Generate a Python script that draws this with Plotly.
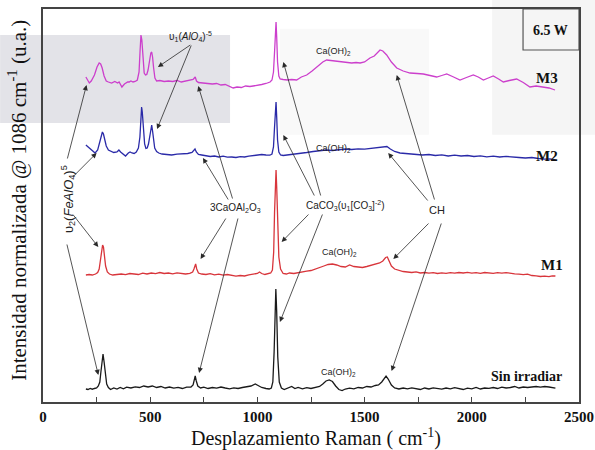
import plotly.graph_objects as go

# ---------------- data ----------------
x_sin = [200,210,220,230,240,250,258,265,270,275,280,285,290,297,305,315,330,345,360,375,390,410,430,450,470,490,510,530,550,570,590,610,630,650,670,690,700,705,710,715,722,735,750,770,790,810,830,850,870,890,910,930,950,970,990,1005,1020,1040,1055,1065,1072,1078,1082,1086,1090,1095,1102,1112,1125,1140,1160,1175,1190,1210,1230,1250,1270,1290,1305,1320,1335,1350,1365,1380,1395,1410,1430,1450,1470,1490,1510,1530,1550,1565,1580,1590,1600,1610,1625,1640,1660,1680,1700,1720,1740,1760,1780,1800,1820,1840,1860,1880,1900,1920,1940,1960,1980,2000,2020,2040,2060,2080,2100,2120,2140,2160,2180,2200,2220,2240,2260,2280,2300,2320,2340,2360,2380,2390]
y_sin = [13,12.5,13.5,12.8,13.5,14,16,20,30,42,48,40,27,18,14.5,12.5,14,13,14.5,13.2,14.8,14,15.2,14.5,16,15,16,14.5,15.5,14,15,13.8,14.6,13.5,14.8,15,17,21,26,21,16,14,14.8,13.5,14.5,13.8,15,14,13.2,14.2,13.5,14.5,15,16,18,16.5,14.5,13.5,13,14,20,50,95,113,90,45,20,14,12.5,13.5,15.5,13.5,14.5,13.2,14.3,13.5,14.5,15.5,18,21,22,20.5,16,12.5,11.5,13,13.8,13.2,14.5,14,15.5,15,16.5,17,20,23,26,23,17,14,13,14,13.2,14.2,13.5,12.5,14,13,14.2,13.5,12.8,14,13.2,14.3,13.5,12.5,13.8,13.2,14.5,13,14,13.6,14.5,13.5,14.8,14,14.5,15.5,14,15,14.5,15.2,15.5,14.8,15.5,15,14,13.8]

x_m1 = [200,215,230,245,255,262,268,273,278,282,287,292,300,310,325,345,365,385,405,425,445,465,485,505,525,545,565,585,605,625,645,665,685,698,704,708,712,717,725,740,760,780,800,820,840,860,880,900,920,940,960,980,1000,1010,1020,1035,1050,1062,1070,1076,1080,1084,1087,1090,1094,1100,1108,1120,1135,1150,1170,1190,1210,1230,1250,1270,1290,1310,1330,1350,1370,1390,1410,1430,1450,1470,1490,1510,1530,1550,1570,1585,1598,1606,1615,1625,1640,1660,1680,1700,1720,1740,1760,1780,1800,1820,1840,1860,1880,1900,1920,1940,1960,1980,2000,2020,2040,2060,2080,2100,2120,2140,2160,2180,2200,2220,2240,2260,2280,2300,2320,2340,2360,2375,2390]
y_m1 = [127,127.5,127,128,129.5,133,142,152,157,155,146,136,130,128,127,127.5,128,127.3,128.5,128,127.5,128.8,128,129,128.3,129.5,128.5,129,128.2,129.2,128.5,128,128.6,130,133,137,138,133,129,128,127.5,128.3,127.2,127.8,126.8,127.5,126.5,125.8,126.5,126,127.2,127.8,128.5,130,128.5,127.5,128,129,132,150,190,225,232,215,175,145,133,128.5,128,129,128.5,129.5,130,130.8,131.5,132.8,134,136,137.5,138,137,135.5,135,137,135.5,135,134.5,135.5,136.5,137.5,139,141,144.5,145,141,136,133,131.5,130.5,130,129.5,130.2,129,129.5,128.8,129.3,128.5,129.2,128.6,129.4,128.8,129.5,129,129.6,128.9,129.4,128.7,129.5,129.2,128.6,129.3,128.8,129.4,128.6,128.2,127.8,127.3,127.8,126.5,126.2,125.5,125.8,125.3,126.2,126]

x_m2 = [200,215,230,243,255,265,272,277,282,288,295,305,318,330,345,354,362,375,385,398,406,415,425,435,445,452,457,460,463,468,474,480,486,492,498,503,507,511,515,521,530,540,555,575,600,625,650,675,695,703,709,715,725,740,760,780,800,820,840,860,880,900,920,940,960,980,1000,1020,1040,1058,1068,1075,1080,1084,1087,1090,1094,1100,1108,1120,1140,1160,1180,1200,1230,1260,1290,1320,1350,1380,1410,1440,1470,1500,1530,1560,1585,1604,1620,1640,1665,1690,1715,1740,1770,1800,1830,1860,1890,1920,1950,1980,2010,2040,2070,2100,2130,2160,2190,2220,2250,2280,2310,2340,2365,2390]
y_m2 = [257,254,251,249,252,260,267,270,268,262,256,252,250.5,249.5,250,252,250,248,246,249,250,249,248.5,250,254,265,283,295,290,272,258,253.5,254,258,266,274,277,271,262,254,250.5,249,248,247.5,247,247.8,248,248.5,249.5,251,253,250,247.5,247,246.5,245.5,246,245,245.8,244.8,245,244.5,245.3,245,245.8,246.2,247,247.5,247,246.8,248,255,275,296,300,285,262,250,247,246.5,247,247.5,248,248,249.5,250.5,251.5,252,251.5,252.5,253,252.5,253.2,252.8,253.5,254.5,255.5,255.5,253,250.5,249,248.5,247.8,248,247,247.5,246.5,247.2,246,246.8,246,246.5,245.5,246.2,245.2,245.8,245,245.6,244.8,244.5,244,244.5,243.5,242.8,243.2,242]

x_m3 = [200,210,216,225,240,252,262,269,276,285,295,305,320,335,348,355,362,368,380,395,402,410,420,430,440,448,453,457,461,466,472,478,484,490,497,503,507,511,516,522,530,545,565,585,605,625,645,665,685,700,706,710,716,725,746,770,790,810,830,850,870,887,905,925,945,965,980,1000,1020,1040,1059,1068,1075,1080,1084,1087,1090,1094,1100,1106,1120,1140,1160,1183,1205,1230,1255,1280,1305,1323,1345,1365,1385,1401,1420,1440,1460,1479,1500,1525,1545,1560,1572,1585,1603,1625,1650,1680,1712,1745,1774,1805,1836,1860,1883,1915,1945,1975,2007,2030,2054,2077,2100,2125,2147,2175,2209,2240,2271,2300,2334,2360,2388]
y_m3 = [325,322,319,321,327,335,339,338,334,326,321,320,319,320.5,319,320,317,315,318,320,320,321,320,320.5,322,330,352,367,362,342,329,327,327.5,332,342,349,350,345,334,324,321,321.5,320.5,321,320.5,321.5,320,321,322,322.5,324,325,321,319.5,319,318.5,318,318.5,317,317.5,315.5,314,315,314.5,316,315.5,316,316.5,317.5,318.5,320,322,330,350,373,380,365,340,326,323,322.5,322,322.5,322,325,327,331,336,340,342,341.5,341,340.5,340,339.5,339,339.5,339,340,344,346,349,352,351,347,340,334,331,329,328.5,328,326.5,325,326.5,328,325,322,324.5,327,325,322,324,326,323,320,321.5,323,319.5,315,316,315,314,312]

series_names = ["Sin irradiar", "M1", "M2", "M3"]
series_colors = ["#1a1a1a", "#d8353b", "#2a2aa8", "#cc3fcc"]

# tick labels
x_tickvals = [0, 500, 1000, 1500, 2000, 2500]
x_ticktext = ["0", "500", "1000", "1500", "2000", "2500"]

# series labels (text, x, y)
label_text = ["M3", "M2", "M1", "Sin irradiar"]
label_x = [2351, 2351, 2374, 2257]
label_y = [324, 246, 137, 26]

# Ca(OH)2 labels
caoh_x = [1353, 1357, 1385, 1376]
caoh_y = [351, 254, 150, 30]

# annotation group labels (text, x, y)
group_text = [
    "υ<sub>1</sub>(<i>AlO</i><sub>4</sub>)<sup>-5</sup>",
    "3CaOAl<sub>2</sub>O<sub>3</sub>",
    "CaCO<sub>3</sub>(υ<sub>1</sub>[CO<sub>3</sub>]<sup>-2</sup>)",
    "CH",
]
group_x = [686, 896, 1409, 1838]
group_y = [366, 194, 197, 192]
group_size = [10, 10, 10, 11]

# arrows: tail (x, y) -> head (x, y), in data units
arrow_tail_x = [694, 694, 112, 134, 134, 110, 886, 868, 857, 911, 1297, 1269, 1245, 1306, 1828, 1800, 1805, 1860]
arrow_tail_y = [358, 358, 242, 224, 189, 159, 202, 201, 185, 185, 205, 205, 189, 189, 201, 200, 180, 180]
arrow_head_x = [536, 532, 203, 250, 258, 258, 724, 746, 735, 728, 1121, 1121, 1113, 1105, 1650, 1610, 1634, 1626]
arrow_head_y = [335, 273, 317, 249, 155, 27, 316, 244, 143, 29, 340, 267, 160, 80, 327, 249, 143, 31]

# ---------------- figure ----------------
fig = go.Figure()
xs = [x_sin, x_m1, x_m2, x_m3]
ys = [y_sin, y_m1, y_m2, y_m3]
for name, xv, yv, col in zip(series_names, xs, ys, series_colors):
    fig.add_trace(go.Scatter(x=xv, y=yv, mode="lines", name=name,
                             line=dict(color=col, width=1.3), showlegend=False))

serif = "Liberation Serif, Times New Roman, serif"
sans = "Liberation Sans, Arial, sans-serif"

ann = []
for t, xv, yv in zip(label_text, label_x, label_y):
    ann.append(dict(x=xv, y=yv, text=t, showarrow=False, xref="x", yref="y",
                    font=dict(family=serif, size=15 if t != "Sin irradiar" else 14,
                              color="#111", weight="bold")))
for xv, yv in zip(caoh_x, caoh_y):
    ann.append(dict(x=xv, y=yv, text="Ca(OH)<sub>2</sub>", showarrow=False,
                    font=dict(family=sans, size=9, color="#222")))
for t, xv, yv, s in zip(group_text, group_x, group_y, group_size):
    ann.append(dict(x=xv, y=yv, text=t, showarrow=False,
                    font=dict(family=sans, size=s, color="#222")))
# rotated υ2(FeAlO4)5 label
ann.append(dict(x=117, y=203, text="υ<sub>2</sub>(<i>FeAlO</i><sub>4</sub>)<sup>5</sup>",
                showarrow=False, textangle=-90,
                font=dict(family=sans, size=13, color="#222")))
for tx, ty, hx, hy in zip(arrow_tail_x, arrow_tail_y, arrow_head_x, arrow_head_y):
    ann.append(dict(x=hx, y=hy, ax=tx, ay=ty, xref="x", yref="y", axref="x", ayref="y",
                    text="", showarrow=True, arrowhead=2, arrowsize=1.3,
                    arrowwidth=0.8, arrowcolor="#2a2a2a", standoff=0, startstandoff=0))
# 6.5 W box label
ann.append(dict(x=2365, y=372, text="6.5 W", showarrow=False,
                font=dict(family=serif, size=14, color="#111", weight="bold")))
# axis titles
ann.append(dict(xref="paper", yref="paper", x=0.509, y=-0.091, xanchor="center", yanchor="middle",
                text="Desplazamiento Raman ( cm<sup>-1</sup>)",
                showarrow=False, font=dict(family=serif, size=20, color="#111")))
ann.append(dict(xref="paper", yref="paper", x=-0.047, y=0.514, xanchor="center", yanchor="middle",
                textangle=-90, text="Intensidad normalizada @ 1086 cm<sup>-1</sup> (u.a.)",
                showarrow=False, font=dict(family=serif, size=21, color="#111")))

shapes = [
    # faint grey scan artefacts in the background
    dict(type="rect", xref="paper", yref="paper", x0=-0.08, x1=0.349, y0=0.71, y1=0.934,
         fillcolor="#e3e3e8", line=dict(width=0), layer="below"),
    dict(type="rect", xref="paper", yref="paper", x0=0.838, x1=1.03, y0=0.68, y1=1.023,
         fillcolor="#f5f5f5", line=dict(width=0), layer="below"),
    dict(type="rect", xref="paper", yref="paper", x0=0.442, x1=0.72, y0=0.68, y1=0.95,
         fillcolor="#f9f9f9", line=dict(width=0), layer="below"),
    # 6.5 W box
    dict(type="rect", xref="x", yref="y", x0=2239, x1=2500, y0=352, y1=393,
         line=dict(color="#555", width=1.2), fillcolor="rgba(0,0,0,0)"),
]

fig.update_layout(
    width=595, height=450,
    margin=dict(l=43, r=16, t=9, b=48, autoexpand=False),
    paper_bgcolor="white", plot_bgcolor="rgba(0,0,0,0)",
    annotations=ann, shapes=shapes,
    xaxis=dict(range=[0, 2500], tickvals=x_tickvals, ticktext=x_ticktext,
               ticks="inside", ticklen=5, tickcolor="#444", automargin=False,
               minor=dict(dtick=250, ticks="inside", ticklen=5, tickcolor="#444"),
               showgrid=False, zeroline=False,
               showline=True, linecolor="#444", linewidth=1.5, mirror=True,
               tickfont=dict(family=serif, size=15, color="#111", weight="bold")),
    yaxis=dict(range=[0, 393], showticklabels=False, ticks="", automargin=False,
               showgrid=False, zeroline=False,
               showline=True, linecolor="#444", linewidth=1.5, mirror=True),
)

fig.write_html("out.html", config={"displayModeBar": False},
               post_script="document.body.style.margin='0px';")
